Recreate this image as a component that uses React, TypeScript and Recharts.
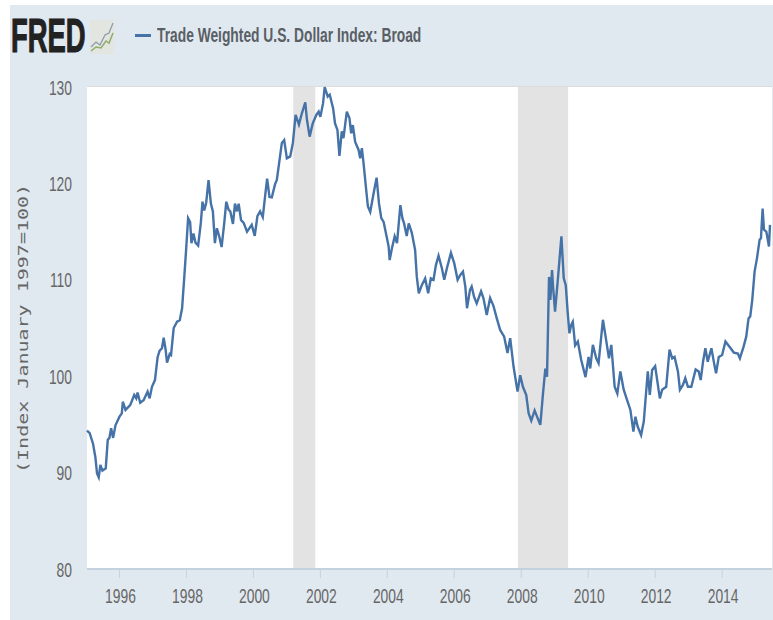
import * as React from 'react'
import { ComposedChart, Line, XAxis, YAxis, CartesianGrid, ReferenceArea } from 'recharts'

const years = [
  1995.03, 1995.11, 1995.21, 1995.28, 1995.33, 1995.38, 1995.43, 1995.49, 1995.59, 1995.65, 1995.70, 1995.75, 1995.81, 1995.88,
  1996.0, 1996.07, 1996.10, 1996.18, 1996.32, 1996.44, 1996.5, 1996.54, 1996.62, 1996.72, 1996.84, 1996.9, 1996.97,
  1997.06, 1997.14, 1997.2, 1997.27, 1997.32, 1997.38, 1997.42, 1997.5, 1997.54, 1997.62, 1997.72, 1997.8, 1997.87, 1997.93, 1997.99,
  1998.05, 1998.11, 1998.15, 1998.21, 1998.27, 1998.35, 1998.43, 1998.48, 1998.53, 1998.59, 1998.66, 1998.73, 1998.79, 1998.85, 1998.91, 1998.98,
  1999.05, 1999.13, 1999.19, 1999.26, 1999.31, 1999.39, 1999.45, 1999.51, 1999.56, 1999.63, 1999.71, 1999.81, 1999.95,
  2000.04, 2000.12, 2000.2, 2000.28, 2000.36, 2000.41, 2000.48, 2000.55, 2000.65, 2000.7, 2000.76, 2000.85, 2000.92,
  2001.0, 2001.1, 2001.18, 2001.26, 2001.36, 2001.45, 2001.55, 2001.6, 2001.68, 2001.77, 2001.88, 2001.95,
  2002.0, 2002.08, 2002.13, 2002.22, 2002.28, 2002.38, 2002.44, 2002.51, 2002.57, 2002.64, 2002.69, 2002.79, 2002.87, 2002.92, 2002.97,
  2003.04, 2003.14, 2003.19, 2003.24, 2003.29, 2003.37, 2003.42, 2003.49, 2003.59, 2003.68, 2003.75, 2003.82, 2003.89, 2003.97,
  2004.04, 2004.07, 2004.14, 2004.22, 2004.29, 2004.39, 2004.45, 2004.50, 2004.58, 2004.64, 2004.73, 2004.83, 2004.88, 2004.94,
  2005.03, 2005.13, 2005.22, 2005.30, 2005.38, 2005.45, 2005.53, 2005.63, 2005.70, 2005.78, 2005.90,
  2006.0, 2006.10, 2006.18, 2006.26, 2006.33, 2006.38, 2006.47, 2006.52, 2006.59, 2006.67, 2006.80, 2006.87, 2006.97,
  2007.07, 2007.17, 2007.27, 2007.37, 2007.49, 2007.59, 2007.67, 2007.77, 2007.89, 2007.97,
  2008.05, 2008.15, 2008.22, 2008.30, 2008.4, 2008.49, 2008.57, 2008.65, 2008.72, 2008.77, 2008.83, 2008.87, 2008.92, 2008.95,
  2009.01, 2009.10, 2009.20, 2009.27, 2009.33, 2009.39, 2009.44, 2009.49, 2009.54, 2009.61, 2009.69, 2009.79, 2009.92,
  2010.01, 2010.06, 2010.14, 2010.24, 2010.31, 2010.44, 2010.52, 2010.62, 2010.69, 2010.79, 2010.87, 2010.96,
  2011.06, 2011.16, 2011.26, 2011.35, 2011.41, 2011.48, 2011.58, 2011.66, 2011.78, 2011.84, 2011.91,
  2012.0, 2012.14, 2012.21, 2012.33, 2012.43, 2012.51, 2012.58, 2012.68, 2012.74, 2012.83, 2012.90, 2012.98,
  2013.08, 2013.21, 2013.30, 2013.36, 2013.43, 2013.50, 2013.57, 2013.68, 2013.77, 2013.82, 2013.90,
  2014.0, 2014.1, 2014.22, 2014.35, 2014.47, 2014.53, 2014.64, 2014.72, 2014.79, 2014.84, 2014.90, 2014.97,
  2015.04, 2015.12, 2015.16, 2015.21, 2015.25, 2015.32, 2015.4, 2015.43,
]

const dollarIndex = [
  94.35, 94.1, 93.0, 91.6, 89.9, 89.5, 90.8, 90.2, 90.45, 93.4, 93.6, 94.6, 93.6, 94.9,
  95.8, 96.15, 97.35, 96.5, 97.0, 98.05, 97.7, 98.3, 97.25, 97.5, 98.4, 97.7, 98.9,
  99.6, 102.0, 102.65, 102.9, 104.0, 102.7, 101.4, 102.3, 102.2, 105.0, 105.65, 105.8, 107.05, 110.0, 113.1,
  116.4, 116.0, 113.8, 114.8, 113.85, 113.55, 115.9, 118.1, 117.2, 118.0, 120.35, 117.9, 117.1, 113.8, 115.35, 114.5,
  113.4, 115.9, 118.1, 117.25, 117.1, 115.8, 117.9, 117.1, 117.9, 116.2, 115.9, 115.0, 115.7,
  114.55, 116.6, 117.1, 116.5, 119.0, 120.5, 118.6, 118.55, 119.95, 120.35, 121.9, 124.2, 124.5,
  122.6, 122.8, 124.2, 127.1, 126.1, 127.3, 128.4, 126.6, 124.85, 126.2, 127.1, 127.45,
  126.9, 128.3, 130.0, 129.0, 129.2, 127.8, 126.2, 125.55, 122.85, 125.4, 124.7, 127.45, 126.75, 125.2, 126.05,
  124.3, 123.5, 122.6, 123.65, 122.1, 119.3, 117.6, 117.05, 118.95, 120.6, 117.95, 116.4, 116.0, 114.65,
  113.45, 112.05, 113.3, 114.5, 113.8, 117.75, 116.4, 115.85, 114.55, 115.85, 114.9, 113.1, 110.35, 108.6,
  109.45, 110.15, 108.6, 110.15, 110.0, 111.5, 112.5, 111.2, 110.0, 111.2, 112.8,
  111.7, 110.0, 110.5, 110.85, 109.3, 107.05, 108.95, 109.3, 108.25, 107.55, 108.8, 108.1, 106.35,
  108.1, 107.3, 106.0, 104.8, 104.1, 102.4, 103.95, 101.0, 98.4, 100.1,
  98.9, 98.05, 96.15, 95.4, 96.45, 95.65, 94.95, 98.2, 100.8, 99.95, 110.3, 107.9, 111.0, 109.3,
  106.7, 110.3, 114.5, 110.15, 109.45, 106.5, 104.45, 105.3, 105.65, 103.2, 103.6, 101.7, 99.9,
  102.0, 100.8, 103.25, 101.85, 101.35, 105.85, 104.1, 101.85, 103.25, 98.9, 98.2, 100.5,
  98.6, 97.55, 96.5, 94.25, 95.8, 94.75, 93.9, 95.3, 100.5, 98.05, 100.65,
  101.05, 97.7, 98.6, 98.9, 102.75, 101.85, 102.0, 100.5, 98.6, 99.1, 99.8, 98.9,
  98.9, 100.7, 100.5, 99.6, 101.5, 102.9, 101.5, 102.9, 101.15, 100.3, 102.0,
  102.2, 103.6, 103.05, 102.45, 102.35, 101.85, 103.05, 104.1, 106.0, 106.2, 107.9, 110.85,
  112.2, 114.15, 114.3, 117.4, 115.2, 115.0, 113.45, 115.7,
]

const yearTicks = [1996, 1998, 2000, 2002, 2004, 2006, 2008, 2010, 2012, 2014]
const valueTicks = [80, 90, 100, 110, 120, 130]
const recessions = [[2001.19, 2001.85], [2007.9, 2009.4]]
const seriesName = 'Trade Weighted U.S. Dollar Index: Broad'
const axisLabel = '(Index January 1997=100)'

const rows = years.map((year, i) => ({ year, value: dollarIndex[i] }))

const sans = '"Liberation Sans", sans-serif'

// no condensed font installed, so squeeze the regular one
function XTick({ x, payload }: any) {
  return (
    <text transform={`translate(${x + 1},603) scale(0.66,1)`} textAnchor="middle" fontFamily={sans} fontSize={21} fill="#666">
      {payload.value}
    </text>
  )
}

function YTick({ y, payload }: any) {
  return (
    <text transform={`translate(72,${y + 7.5}) scale(0.66,1)`} textAnchor="end" fontFamily={sans} fontSize={21} fill="#666">
      {payload.value}
    </text>
  )
}

function AxisLabel() {
  return (
    <text transform="translate(28,473) rotate(-90) scale(1.43,1)" fontFamily='"DejaVu Sans Mono", monospace' fontSize={14} fill="#666">
      {axisLabel}
    </text>
  )
}

function FredLogo() {
  return (
    <div style={{ position: 'absolute', left: 11, top: 12, height: 48 }}>
      <span style={{
        display: 'inline-block', fontFamily: sans, fontWeight: 700, fontSize: 48, lineHeight: '48px',
        color: '#222', transform: 'scaleX(0.57)', transformOrigin: '0 0', WebkitTextStroke: '1.2px #222',
      }}>FRED</span>
      <svg width={24} height={34} style={{ position: 'absolute', left: 79, top: 8 }}>
        <rect x={0} y={0} width={24} height={34} fill="#e3e5e0" />
        <polyline points="1,27 6,22 10,25 15,15 19,13 23,3" fill="none" stroke="#8c9aa5" strokeWidth={1.2} />
        <polyline points="1,31 6,27 11,28 16,21 19,23 23,13" fill="none" stroke="#8fae6b" strokeWidth={1.5} />
      </svg>
    </div>
  )
}

function SeriesLegend() {
  return (
    <div style={{ position: 'absolute', left: 135, top: 23, height: 24, whiteSpace: 'nowrap' }}>
      <span style={{ position: 'absolute', left: 0, top: 11, width: 16, height: 3, background: '#4572a7' }} />
      <span style={{
        position: 'absolute', left: 22, top: 0, fontFamily: sans, fontWeight: 700, fontSize: 20, lineHeight: '24px',
        color: '#5a5f66', transform: 'scaleX(0.69)', transformOrigin: '0 0',
      }}>{seriesName}</span>
    </div>
  )
}

export default function App() {
  return (
    <div style={{ position: 'absolute', left: 0, top: 0, width: 773, height: 620, background: '#fff', overflow: 'hidden' }}>
      <div style={{ position: 'absolute', left: 10, top: 5, width: 763, height: 615, background: '#e1e9f0' }} />
      <FredLogo />
      <SeriesLegend />
      <div style={{ position: 'absolute', left: 0, top: 0 }}>
        <ComposedChart width={773} height={620} data={rows} margin={{ top: 87, right: 1, bottom: 0, left: 0 }}>
          <rect x={87} y={87} width={685} height={482} fill="#fff" />
          <CartesianGrid horizontal vertical={false} stroke="#dcdcdc" strokeWidth={2} />
          <XAxis
            dataKey="year"
            type="number"
            scale="linear"
            domain={[1995.04, 2015.49]}
            ticks={yearTicks}
            height={51}
            axisLine={{ stroke: '#c4d2e0', strokeWidth: 2 }}
            tickLine={{ stroke: '#c4d2e0' }}
            tickSize={9}
            tick={<XTick />}
            interval={0}
          />
          <YAxis
            type="number"
            domain={[80, 130]}
            ticks={valueTicks}
            width={87}
            axisLine={false}
            tickLine={false}
            tick={<YTick />}
            interval={0}
            label={<AxisLabel />}
          />
          {recessions.map(([x1, x2]) => (
            <ReferenceArea key={x1} x1={x1} x2={x2} fill="#e3e3e3" fillOpacity={1} stroke="none" />
          ))}
          <Line
            type="linear"
            dataKey="value"
            name={seriesName}
            stroke="#4572a7"
            strokeWidth={2.4}
            dot={false}
            isAnimationActive={false}
          />
        </ComposedChart>
      </div>
    </div>
  )
}
